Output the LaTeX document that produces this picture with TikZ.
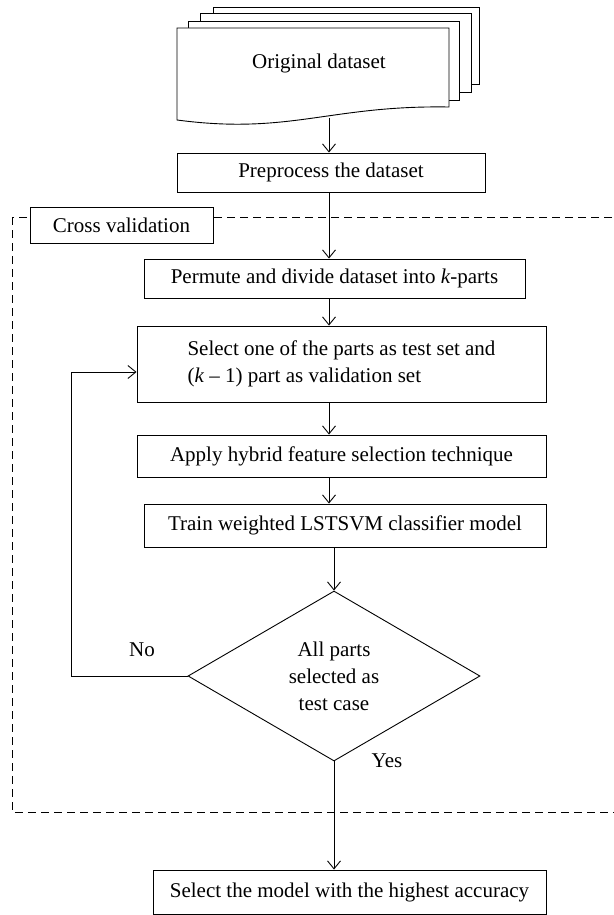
\documentclass[tikz,border=0pt]{standalone}
\usepackage{fontspec}
\setmainfont{Liberation Serif}
\usetikzlibrary{arrows.meta,shapes.geometric}

\begin{document}
\begin{tikzpicture}[
  x=1pt, y=-1pt,
  line width=0.9pt,
  every node/.style={font=\fontsize{21}{27}\selectfont},
  stepbox/.style={draw, fill=white, inner sep=0pt},
  decision/.style={draw, fill=white, diamond, inner sep=0pt, align=center},
  flow/.style={-{Straight Barb[length=8pt,width=13pt]}},
  cvframe/.style={dash pattern=on 8pt off 5pt},
  sheet/.style={draw, fill=white}
]
\useasboundingbox (0,0) rectangle (613,915);

% stacked dataset sheets
\draw[sheet] (213,7) rectangle (479,84);
\draw[sheet] (200,13) rectangle (471,92);
\draw[sheet] (188,21) rectangle (459,100);
\draw[sheet] (177,28) -- (449,28) -- (449,107)
  .. controls (330,105) and (290,135) .. (177,120) -- cycle;
\node (orig) at (319,63) {Original dataset};
\coordinate (docout) at (329,118);

% cross validation frame
\draw[cvframe] (12,217) rectangle (640,812);
\node[stepbox, minimum width=183pt, minimum height=36pt] (cross) at (121.5,225) {Cross validation};

% steps
\node[stepbox, minimum width=308pt, minimum height=39pt] (prep) at (331,172.5) {Preprocess the dataset};
\node[stepbox, minimum width=381pt, minimum height=39pt] (perm) at (334.5,278.5) {Permute and divide dataset into \textit{k}-parts};
\node[stepbox, minimum width=409pt, minimum height=76pt, align=left] (sel) at (341.5,364)
  {Select one of the parts as test set and\\(\textit{k} – 1) part as validation set};
\node[stepbox, minimum width=409pt, minimum height=42pt] (apply) at (341.5,456) {Apply hybrid feature selection technique};
\node[stepbox, minimum width=402pt, minimum height=43pt] (train) at (345,525.5) {Train weighted LSTSVM classifier model};
\node[decision, minimum width=292pt, minimum height=170pt] (check) at (334,676) {All parts\\selected as\\test case};
\node[stepbox, minimum width=393pt, minimum height=44pt] (final) at (349.5,892) {Select the model with the highest accuracy};

% connectors
\coordinate (spine) at (329,0);
\coordinate (loopx) at (71,0);
\draw[flow] (docout) -- (docout |- prep.north);
\draw[flow] (prep.south -| spine) -- (perm.north -| spine);
\draw[flow] (perm.south -| spine) -- (sel.north -| spine);
\draw[flow] (sel.south -| spine) -- (apply.north -| spine);
\draw[flow] (apply.south -| spine) -- (train.north -| spine);
\draw[flow] (train.south -| check.north) -- (check.north);
\draw[flow] (check.south) -- (check.south |- final.north);
\draw[flow] (check.west) -- (check.west -| loopx) |- ([yshift=-8pt]sel.west);

\node (no) at (142,650) {No};
\node (yes) at (387,761) {Yes};

\end{tikzpicture}
\end{document}
